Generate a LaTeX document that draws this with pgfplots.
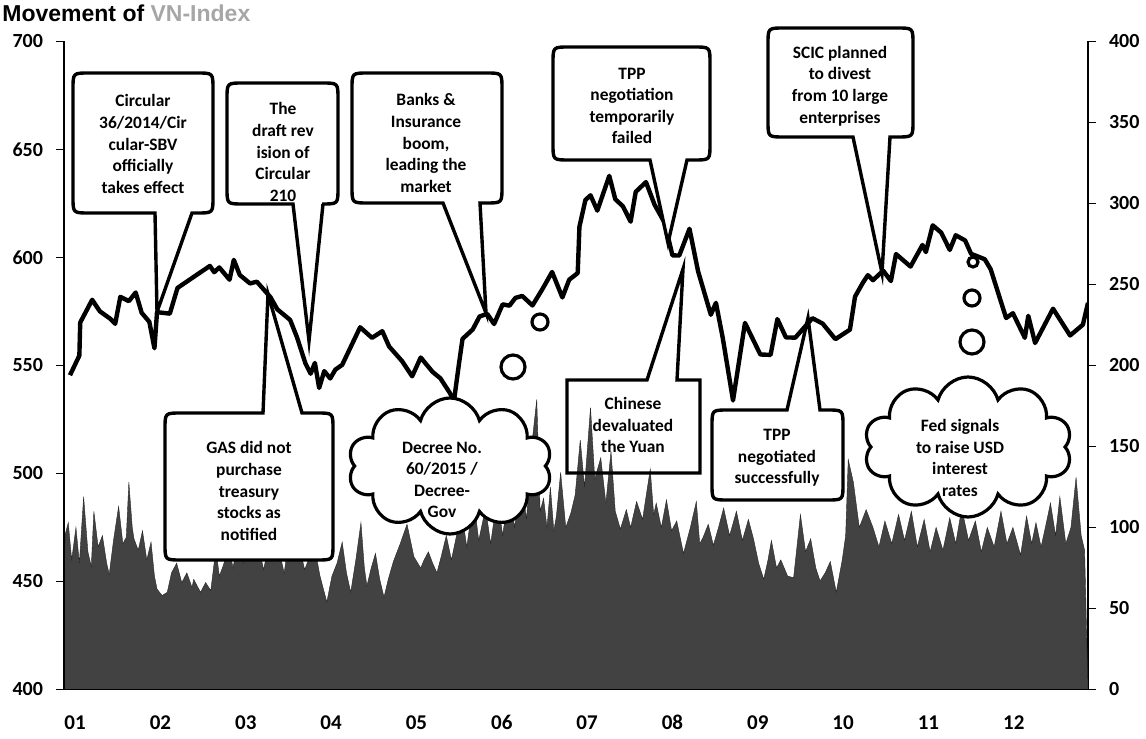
\documentclass[border=0pt]{standalone}
\usepackage{fontspec}
\setmainfont{Carlito}[Numbers=Lining]
\newfontfamily\titlefont{Liberation Sans}
\usepackage{pgfplots}
\pgfplotsset{compat=1.18}
\usetikzlibrary{shapes.symbols}

% Callout with pointer on the bottom edge (px coordinates, y down)
% #1 x1, #2 y1, #3 x2, #4 y2, #5 xa, #6 xb, #7 tip x, #8 tip y
\newcommand{\calloutB}[8]{%
\draw[callout] (#1+16,#2) -- (#3-16,#2) .. controls (#3,#2) .. (#3,#2+16)
 -- (#3,#4-16) .. controls (#3,#4) .. (#3-16,#4) -- (#6,#4) -- (#7,#8) -- (#5,#4)
 -- (#1+16,#4) .. controls (#1,#4) .. (#1,#4-16) -- (#1,#2+16) .. controls (#1,#2) .. (#1+16,#2) -- cycle;}
% Callout with pointer on the top edge
\newcommand{\calloutT}[8]{%
\draw[callout] (#1+16,#2) -- (#5,#2) -- (#7,#8) -- (#6,#2) -- (#3-16,#2) .. controls (#3,#2) .. (#3,#2+16)
 -- (#3,#4-16) .. controls (#3,#4) .. (#3-16,#4)
 -- (#1+16,#4) .. controls (#1,#4) .. (#1,#4-16) -- (#1,#2+16) .. controls (#1,#2) .. (#1+16,#2) -- cycle;}

\pgfplotsset{
  common/.style={
    at={(32pt,24.75pt)}, anchor=south west, scale only axis,
    width=512pt, height=324pt, xmin=0, xmax=12,
    tick align=outside, major tick length=4pt,
    tick style={black, line width=0.8pt},
    axis line style={black, line width=0.9pt},
    ticklabel style={font=\bfseries\fontsize{10}{11}\selectfont},
    /pgf/number format/assume math mode=true,
  }
}

\begin{document}
\begin{tikzpicture}
\useasboundingbox (0,0) rectangle (573pt,369.5pt);
\clip (0,0) rectangle (573pt,369.5pt);

% ---------------- volume (right axis) ----------------
\begin{axis}[common, ymin=0, ymax=400, axis x line=none, axis y line*=right,
  ytick={0,50,...,400}, yticklabel style={xshift=3pt}]
\addplot[fill=black!74, draw=black!85, line width=0.2pt] table {
0.00 0
0.01 95
0.05 103
0.09 80
0.14 100
0.18 78
0.23 119
0.28 85
0.32 76
0.35 110
0.40 88
0.45 95
0.50 78
0.53 71
0.58 92
0.64 113
0.69 90
0.73 94
0.76 128
0.80 100
0.82 93
0.87 86
0.92 98
0.97 80
1.02 91
1.06 70
1.09 62
1.15 58
1.21 60
1.26 72
1.32 78
1.38 66
1.44 72
1.50 63
1.52 68
1.60 60
1.66 66
1.72 61
1.78 87
1.82 70
1.87 77
1.93 90
1.98 75
2.04 92
2.10 78
2.16 95
2.22 80
2.28 88
2.34 74
2.40 90
2.46 78
2.52 86
2.58 72
2.64 94
2.70 80
2.76 88
2.82 74
2.88 82
2.93 90
3.00 70
3.08 54
3.14 70
3.20 78
3.26 91
3.31 72
3.36 60
3.42 80
3.48 103
3.52 75
3.55 64
3.60 75
3.65 84
3.70 68
3.75 57
3.80 68
3.86 79
3.94 90
4.02 102
4.10 82
4.18 75
4.22 80
4.27 85
4.32 78
4.37 72
4.42 82
4.48 95
4.54 80
4.60 95
4.66 110
4.72 88
4.80 118
4.86 92
4.94 112
5.00 90
5.08 120
5.14 95
5.22 125
5.28 100
5.36 130
5.42 105
5.48 150
5.54 179
5.58 110
5.62 118
5.66 100
5.70 125
5.74 98
5.77 107
5.82 134
5.88 100
5.94 109
5.99 120
6.05 154
6.10 125
6.17 174
6.22 130
6.29 143
6.35 115
6.41 147
6.46 110
6.52 99
6.59 111
6.64 100
6.71 116
6.78 105
6.87 136
6.91 108
6.94 115
7.00 100
7.06 117
7.12 98
7.18 104
7.26 84
7.34 100
7.41 116
7.45 90
7.49 94
7.55 102
7.61 89
7.67 100
7.73 112
7.80 95
7.88 110
7.95 92
8.02 105
8.08 93
8.14 78
8.20 68
8.25 80
8.29 92
8.35 75
8.40 80
8.48 70
8.55 69
8.63 108
8.69 85
8.75 93
8.81 75
8.86 67
8.92 72
8.98 79
9.05 60
9.12 80
9.16 95
9.19 142
9.25 128
9.32 100
9.40 111
9.48 100
9.55 88
9.62 104
9.70 90
9.78 108
9.85 92
9.93 110
10.00 88
10.08 105
10.15 85
10.22 100
10.30 86
10.38 106
10.45 90
10.52 112
10.60 92
10.68 104
10.75 85
10.82 100
10.90 88
10.98 110
11.05 90
11.12 100
11.21 83
11.28 107
11.34 90
11.39 103
11.45 88
11.50 100
11.56 115
11.62 95
11.67 119
11.74 90
11.80 100
11.86 131
11.92 95
11.96 86
12.00 0
} \closedcycle;
\end{axis}

% ---------------- VN-Index (left axis) ----------------
\begin{axis}[common, ymin=400, ymax=700, axis x line*=bottom, axis y line*=left,
  ytick={400,450,...,700}, yticklabel style={xshift=-3pt},
  xtick={0.13,1.13,2.13,3.13,4.13,5.13,6.13,7.13,8.13,9.13,10.13,11.13},
  xticklabels={01,02,03,04,05,06,07,08,09,10,11,12},
  xtick style={draw=none},
  xticklabel style={anchor=base, yshift=-16pt, font=\bfseries\fontsize{10.5}{11}\selectfont}]
\addplot[black, line width=2.2pt, line join=round] table {
0.07 545.5
0.18 554.6
0.19 569.9
0.33 580.4
0.42 575.1
0.54 571.7
0.60 569.3
0.66 581.8
0.76 579.8
0.84 583.8
0.91 574.4
1.00 570.2
1.06 558.0
1.09 574.7
1.24 574.0
1.33 585.9
1.56 592.1
1.71 596.1
1.76 593.2
1.82 595.4
1.94 589.7
1.99 598.9
2.06 591.9
2.18 588.0
2.26 588.8
2.42 581.6
2.50 576.0
2.65 571.1
2.73 563.1
2.83 550.9
2.89 546.2
2.94 551.2
2.99 539.6
3.05 547.4
3.12 544.0
3.18 548.1
3.26 550.3
3.47 567.7
3.61 562.8
3.73 565.9
3.81 558.8
3.96 552.1
4.08 545.0
4.18 553.7
4.32 547.0
4.41 544.1
4.52 537.4
4.57 533.7
4.63 551.2
4.67 562.3
4.79 566.7
4.87 572.7
4.96 573.9
5.04 569.2
5.14 578.3
5.22 577.7
5.29 581.3
5.37 582.2
5.49 577.8
5.61 585.6
5.72 593.3
5.84 581.5
5.92 589.7
6.02 592.8
6.04 614.2
6.11 626.6
6.17 628.8
6.25 621.7
6.39 637.8
6.46 627.0
6.55 623.7
6.64 616.6
6.70 630.4
6.82 634.9
6.92 624.5
7.04 616.0
7.13 601.0
7.21 600.9
7.33 613.3
7.43 593.7
7.58 573.5
7.64 579.0
7.72 562.7
7.84 533.8
7.98 569.7
8.16 555.1
8.28 554.9
8.36 571.5
8.46 563.0
8.57 562.9
8.77 571.9
8.89 569.4
9.04 562.2
9.21 566.6
9.27 581.9
9.36 588.2
9.42 591.8
9.48 589.5
9.60 593.9
9.69 589.1
9.75 601.6
9.92 595.8
10.06 605.8
10.10 602.5
10.18 614.9
10.28 611.5
10.38 603.5
10.45 610.3
10.56 607.9
10.63 601.7
10.79 599.2
10.86 594.5
11.04 572.0
11.12 574.2
11.26 562.8
11.30 573.0
11.38 560.4
11.59 576.3
11.79 563.9
11.94 568.9
12.00 579.0
};
\end{axis}

% ---------------- annotations (px coordinates, y down) ----------------
\begin{scope}[x=0.5pt, y=-0.5pt, shift={(0,369.5pt)},
  callout/.style={draw=black, line width=1.7pt, fill=white, line join=miter, miter limit=20},
  txt/.style={font=\bfseries\fontsize{8.7}{10.8}\selectfont, align=center, inner sep=0pt}]

% title
\node[anchor=base west, inner sep=0pt, font=\titlefont\bfseries\fontsize{11.5}{12}\selectfont]
  at (2,22) {Movement of \textcolor{black!35}{VN-Index}};

\calloutB{73}{73}{213}{213}{155}{192}{157}{312}
\node[txt] at (143,144) {Circular\\36/2014/Cir\\cular-SBV\\officially\\takes effect};

\calloutB{227}{83}{338}{204}{293}{323}{309}{341}
\node[txt] at (283,152) {The\\draft rev\\ision of\\Circular\\210};

\calloutT{165}{413}{333}{560}{263}{302}{268}{294}
\node[txt] at (249,491) {GAS did not\\purchase\\treasury\\stocks as\\notified};

\calloutB{352}{73}{502}{203}{443}{480}{486}{313}
\node[txt] at (426,143) {Banks \&\\Insurance\\boom,\\leading the\\market};

\calloutB{553}{47}{710}{160}{650}{687}{668}{243}
\node[txt] at (632,106) {TPP\\negotiation\\temporarily\\failed};

\draw[line width=1.7pt, line join=miter] (567,380) -- (647,380) -- (683,269) -- (677,380) -- (700,380) -- (700,473) -- (567,473) -- cycle;
\node[txt] at (633,425) {Chinese\\devaluated\\the Yuan};

\calloutT{712}{410}{843}{500}{787}{820}{808}{318}
\node[txt] at (777,458) {TPP\\negotiated\\successfully};

\calloutB{768}{28}{913}{137}{853}{890}{882}{273}
\node[txt] at (840,86) {SCIC planned\\to divest\\from 10 large\\enterprises};

% clouds
\node[cloud, cloud puffs=10, cloud ignores aspect, draw=black, line width=1.6pt, fill=white,
  minimum width=102pt, minimum height=68pt, inner sep=0pt] at (450,466) {};
\node[txt] at (442,480) {Decree No.\\60/2015 /\\Decree-\\Gov};
\draw[line width=1.6pt] (513,367) circle[radius=12];
\draw[line width=1.6pt] (540,322) circle[radius=8];

\node[cloud, cloud puffs=10, cloud ignores aspect, draw=black, line width=1.6pt, fill=white,
  minimum width=104pt, minimum height=70pt, inner sep=0pt] at (968,447) {};
\node[txt] at (960,458) {Fed signals\\to raise USD\\interest\\rates};
\draw[line width=1.6pt] (972,342) circle[radius=12];
\draw[line width=1.6pt] (972,298) circle[radius=8];
\draw[line width=1.6pt] (973,262) circle[radius=5];
\end{scope}
\end{tikzpicture}
\end{document}
